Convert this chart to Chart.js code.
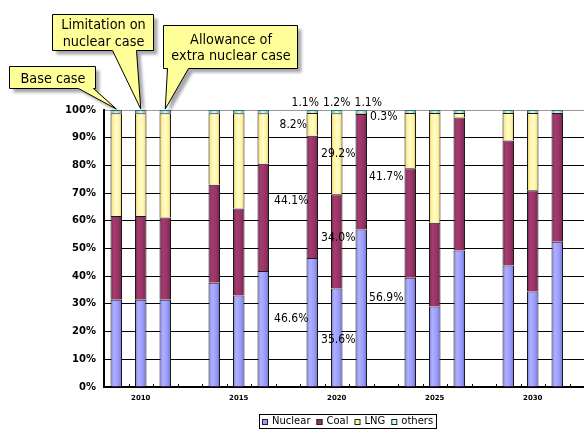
<!DOCTYPE html>
<html>
<head>
<meta charset="utf-8">
<script src="https://cdn.jsdelivr.net/npm/chart.js@4"></script>
<style>
  html, body { margin: 0; padding: 0; background: #fff; overflow: hidden; }
  #wrap { position: relative; width: 610px; height: 429px; }
</style>
</head>
<body>
<div id="wrap"><canvas id="c"></canvas></div>
<script>
// Power generation mix by scenario (share of total, %)
const years = ['2010', '2015', '2020', '2025', '2030'];
const scenarios = ['Base case', 'Limitation on nuclear case', 'Allowance of extra nuclear case'];
const seriesNames = ['Nuclear', 'Coal', 'LNG', 'others'];

// Values ordered per year: base, limitation, extra
const nuclear = [31.5, 31.5, 31.5, 37.6, 33.0, 41.9, 46.6, 35.6, 56.9, 39.4, 29.1, 49.3, 43.9, 34.5, 52.4];
const coal    = [30.2, 30.2, 29.7, 35.4, 31.4, 38.7, 44.1, 34.0, 41.7, 39.6, 30.2, 48.0, 45.1, 36.5, 46.5];
const lng     = [37.1, 37.1, 37.6, 25.8, 34.4, 18.2,  8.2, 29.2,  0.3, 19.9, 39.6,  1.6,  9.9, 27.9,  0.1];
const others  = [ 1.2,  1.2,  1.2,  1.2,  1.2,  1.2,  1.1,  1.2,  1.1,  1.1,  1.1,  1.1,  1.1,  1.1,  1.0];

const yTicks = [0, 10, 20, 30, 40, 50, 60, 70, 80, 90, 100];

// Value labels shown for the 2020 bars: [bar index, series index, dx, dy]
const valueNotes = [
  [6, 0, -21, -3], [6, 1, -21, 4], [6, 2, -19, 0], [6, 3, -7, -9],
  [7, 0, 1.5, 2], [7, 1, 1.5, -3], [7, 2, 1.5, 0.5], [7, 3, 0, -9],
  [8, 0, 25, -10.5], [8, 1, 25, 5], [8, 2, 22.5, 3], [8, 3, 7, -9]
];

const allSeries = [nuclear, coal, lng, others];

// Each year takes four slots: three scenario bars and a spacer
function toSlots(arr) {
  const out = [];
  for (let g = 0; g < years.length; g++) {
    out.push(arr[g * 3], arr[g * 3 + 1], arr[g * 3 + 2], null);
  }
  return out;
}
const slotLabels = [];
years.forEach(y => { slotLabels.push('', y, '', ''); });
const slotOf = bar => Math.floor(bar / 3) * 4 + (bar % 3);

const shadeStops = [
  [[0, '#7878DC'], [0.3, '#B0B0FF'], [0.65, '#9C9CFF'], [1, '#7070D0']],
  [[0, '#74274D'], [0.3, '#A53C70'], [0.65, '#993366'], [1, '#6E2449']],
  [[0, '#E5B53A'], [0.22, '#FFF0A0'], [0.5, '#FFFFC8'], [0.78, '#FFF0A0'], [1, '#E5B53A']],
  [[0, '#6AA6A6'], [0.5, '#D4FFFF'], [1, '#6AA6A6']]
];
const flatColors = ['#9999FF', '#993366', '#FFFF99', '#CCFFFF'];
const edgeColors = ['#1a1a1a', '#1a1a1a', '#1a1a1a', '#3a6a6a'];

function shade(si) {
  return ctx => {
    const chart = ctx.chart;
    const xs = chart.scales && chart.scales.x;
    if (ctx.type !== 'data' || !chart.chartArea || !xs) return flatColors[si];
    const cx = xs.getPixelForValue(ctx.dataIndex);
    const g = chart.ctx.createLinearGradient(cx - 6, 0, cx + 6, 0);
    shadeStops[si].forEach(s => g.addColorStop(s[0], s[1]));
    return g;
  };
}

const FONT = "'DejaVu Sans Condensed', 'DejaVu Sans', sans-serif";

// Small tick marks on the category axis, between slots
const slotTicks = {
  id: 'slotTicks',
  afterDatasetsDraw(chart) {
    const { ctx, chartArea, scales } = chart;
    const xs = scales.x;
    const n = slotLabels.length;
    const w = (xs.getPixelForValue(1) - xs.getPixelForValue(0));
    ctx.save();
    ctx.strokeStyle = '#000';
    ctx.lineWidth = 1;
    for (let i = 0; i <= n; i++) {
      const x = Math.round(xs.getPixelForValue(0) - w / 2 + i * w) + 0.5;
      ctx.beginPath();
      ctx.moveTo(x, chartArea.bottom - 3);
      ctx.lineTo(x, chartArea.bottom);
      ctx.stroke();
    }
    ctx.restore();
  }
};

const valueLabels = {
  id: 'valueLabels',
  afterDatasetsDraw(chart) {
    const { ctx } = chart;
    ctx.save();
    ctx.font = '12px ' + FONT;
    ctx.fillStyle = '#000';
    ctx.textAlign = 'center';
    ctx.textBaseline = 'middle';
    valueNotes.forEach(([bar, si, dx, dy]) => {
      const el = chart.getDatasetMeta(si).data[slotOf(bar)];
      const cy = (el.y + el.base) / 2;
      ctx.fillText(allSeries[si][bar].toFixed(1) + '%', el.x + dx, cy + dy);
    });
    ctx.restore();
  }
};

// Scenario callouts pointing at the first three bars
const calloutBoxes = [
  { lines: [scenarios[0]], box: [9, 66, 95, 88], base: [78, 93], bar: 0 },
  { lines: ['Limitation on', 'nuclear case'], box: [52, 14, 153, 50], base: [112, 136], bar: 1 },
  { lines: ['Allowance of', 'extra nuclear case'], box: [163, 25, 297, 68], base: [167, 188], bar: 2 }
];

const callouts = {
  id: 'callouts',
  afterDraw(chart) {
    const { ctx, chartArea, scales } = chart;
    ctx.save();
    calloutBoxes.forEach(c => {
      const [x1, y1, x2, y2] = c.box;
      const tipX = scales.x.getPixelForValue(slotOf(c.bar));
      const tipY = chartArea.top - 1;
      ctx.beginPath();
      ctx.moveTo(x1 + 0.5, y1 + 0.5);
      ctx.lineTo(x2 + 0.5, y1 + 0.5);
      ctx.lineTo(x2 + 0.5, y2 + 0.5);
      ctx.lineTo(c.base[1] + 0.5, y2 + 0.5);
      ctx.lineTo(tipX, tipY);
      ctx.lineTo(c.base[0] + 0.5, y2 + 0.5);
      ctx.lineTo(x1 + 0.5, y2 + 0.5);
      ctx.closePath();
      ctx.save();
      ctx.shadowColor = 'rgba(0,0,0,0.34)';
      ctx.shadowOffsetX = 4;
      ctx.shadowOffsetY = 4;
      ctx.shadowBlur = 3;
      ctx.fillStyle = '#FFFF99';
      ctx.fill();
      ctx.restore();
      ctx.strokeStyle = '#000';
      ctx.lineWidth = 1;
      ctx.stroke();
      ctx.fillStyle = '#000';
      ctx.font = '14.3px ' + FONT;
      ctx.textAlign = 'center';
      ctx.textBaseline = 'middle';
      const cx = (x1 + x2) / 2 + 1;
      const cy = (y1 + y2) / 2 + 2;
      const lh = 16.5;
      c.lines.forEach((t, i) => {
        ctx.fillText(t, cx, cy + (i - (c.lines.length - 1) / 2) * lh);
      });
    });
    ctx.restore();
  }
};

// Boxed legend under the axis
const boxedLegend = {
  id: 'boxedLegend',
  afterDraw(chart) {
    const { ctx } = chart;
    ctx.save();
    ctx.font = '10px "DejaVu Sans", sans-serif';
    const sq = 6, gapIn = 4, gapOut = 6, pad = 3;
    const widths = seriesNames.map(n => ctx.measureText(n).width);
    let total = pad * 2;
    widths.forEach((w, i) => { total += sq + gapIn + w + (i < widths.length - 1 ? gapOut : 0); });
    const cx = 348, top = 414, h = 14;
    const left = Math.round(cx - total / 2);
    ctx.fillStyle = '#fff';
    ctx.fillRect(left, top, total, h);
    ctx.strokeStyle = '#000';
    ctx.lineWidth = 1;
    ctx.strokeRect(left + 0.5, top + 0.5, Math.round(total), h);
    let x = left + pad;
    const cy = top + h / 2 + 0.5;
    seriesNames.forEach((n, i) => {
      ctx.fillStyle = flatColors[i];
      ctx.fillRect(x, Math.round(cy - sq / 2), sq, sq);
      ctx.strokeStyle = '#222';
      ctx.strokeRect(x + 0.5, Math.round(cy - sq / 2) + 0.5, sq - 1, sq - 1);
      x += sq + gapIn;
      ctx.fillStyle = '#000';
      ctx.textBaseline = 'middle';
      ctx.fillText(n, x, cy);
      x += widths[i] + gapOut;
    });
    ctx.restore();
  }
};

const datasets = allSeries.map((arr, si) => ({
  label: seriesNames[si],
  data: toSlots(arr),
  backgroundColor: shade(si),
  borderColor: edgeColors[si],
  borderWidth: 1,
  borderSkipped: 'start',
  categoryPercentage: 1,
  barPercentage: 0.47
}));

new Chart(document.getElementById('c'), {
  type: 'bar',
  data: { labels: slotLabels, datasets },
  options: {
    responsive: true,
    maintainAspectRatio: false,
    animation: false,
    layout: { padding: { top: 110, right: 16, bottom: 0, left: 0 } },
    plugins: { legend: { display: false }, tooltip: { enabled: false } },
    scales: {
      x: {
        stacked: true,
        grid: { drawOnChartArea: false, drawTicks: false },
        border: { color: '#000', width: 2 },
        ticks: {
          autoSkip: false, maxRotation: 0, padding: 7, color: '#000',
          font: { family: 'DejaVu Sans', size: 7, weight: 'bold' }
        },
        afterFit: s => { s.height = 42; }
      },
      y: {
        stacked: true,
        min: 0, max: 100,
        afterBuildTicks: s => { s.ticks = yTicks.map(v => ({ value: v })); },
        grid: {
          color: c => (c.tick && c.tick.value === 100 ? '#999' : '#000'),
          lineWidth: 1,
          drawTicks: false
        },
        border: { color: '#000', width: 2 },
        ticks: {
          padding: 8, color: '#000',
          font: { family: 'DejaVu Sans', size: 10, weight: 'bold' },
          callback: v => v + '%'
        },
        afterFit: s => { s.width = 104; }
      }
    }
  },
  plugins: [slotTicks, valueLabels, callouts, boxedLegend]
});
</script>
</body>
</html>
